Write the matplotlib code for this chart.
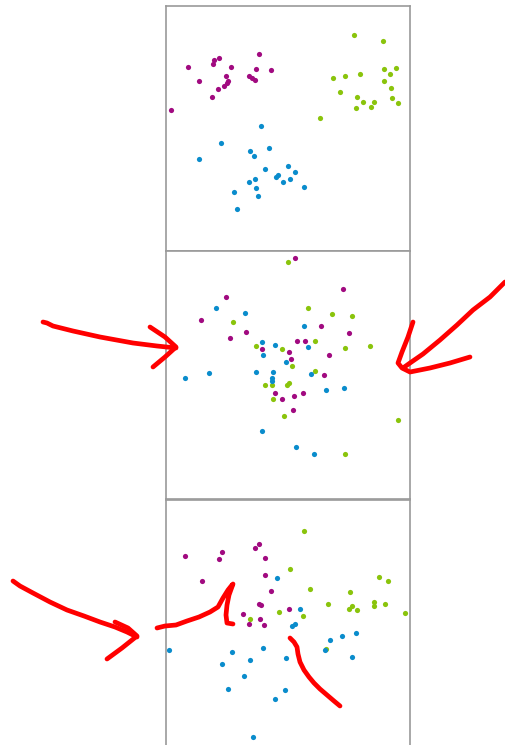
import matplotlib.pyplot as plt
import matplotlib as mpl

mpl.use("Agg")

# point positions, in each panel's own units
# (x grows right, y grows downwards)
p1_magenta_x = [296, 84, 162, 178, 160, 213, 198, 288, 332, 116, 203, 200, 192,
                174, 155, 268, 276, 285, 34]
p1_magenta_y = [162, 202, 180, 173, 193, 202, 227, 208, 211, 243, 242, 250, 258,
                266, 290, 227, 233, 240, 330]
p1_green_x = [582, 670, 520, 556, 600, 672, 708, 689, 672, 692, 540, 592, 608,
              642, 588, 632, 695, 715, 481]
p1_green_y = [104, 123, 233, 227, 222, 206, 204, 223, 242, 264, 277, 290, 307,
              307, 324, 322, 294, 309, 354]
p1_blue_x = [303, 183, 116, 327, 270, 281, 316, 385, 404, 348, 354, 369, 390,
             268, 286, 288, 293, 432, 221, 230]
p1_blue_y = [378, 427, 477, 443, 453, 467, 507, 497, 516, 530, 523, 545, 536,
             546, 537, 564, 586, 560, 576, 626]

p2_magenta_x = [406, 548, 198, 123, 482, 258, 209, 566, 410, 434, 305, 388, 394,
                508, 492, 344, 429, 401, 367, 399]
p2_magenta_y = [31, 124, 149, 216, 234, 252, 271, 255, 279, 281, 304, 313, 334,
                323, 381, 437, 436, 444, 455, 486]
p2_green_x = [383, 444, 515, 577, 219, 464, 289, 366, 554, 631, 397, 464, 315,
              337, 381, 388, 339, 373, 715, 556]
p2_green_y = [43, 181, 199, 204, 224, 279, 294, 303, 300, 294, 355, 370, 413,
              413, 411, 407, 453, 506, 517, 620]
p2_blue_x = [167, 256, 432, 307, 346, 444, 309, 377, 287, 339, 337, 335, 146,
             74, 453, 498, 552, 306, 408, 462]
p2_blue_y = [181, 197, 234, 283, 292, 297, 322, 344, 372, 373, 392, 399, 377,
             392, 378, 427, 421, 550, 599, 620]

p3_magenta_x = [298, 284, 187, 76, 176, 314, 316, 127, 332, 298, 304, 386, 249,
                301, 267, 311]
p3_magenta_y = [148, 159, 172, 184, 193, 190, 240, 257, 287, 326, 330, 342, 358,
                373, 386, 390]
p3_green_x = [432, 391, 657, 684, 450, 571, 503, 577, 568, 592, 642, 642, 674,
              357, 430, 736, 270, 497]
p3_green_y = [108, 222, 245, 259, 283, 290, 327, 332, 343, 346, 322, 332, 327,
              352, 363, 354, 371, 461]
p3_blue_x = [350, 419, 406, 397, 588, 545, 511, 26, 215, 309, 495, 269, 378,
             577, 185, 251, 204, 376, 344, 279]
p3_blue_y = [249, 342, 388, 394, 415, 423, 434, 464, 470, 458, 466, 494, 489,
             485, 507, 541, 580, 584, 612, 725]

# hand-drawn red annotation strokes, figure pixels
arrow1_x = [43, 47, 53, 73, 100, 133, 157, 176]
arrow1_y = [322, 323, 326, 331, 337, 343, 346, 348]
head1_x = [150, 165, 176, 165, 153]
head1_y = [327, 337, 347, 357, 367]
arrow2_x = [505, 490, 473, 457, 440, 423, 410, 403]
arrow2_y = [282, 297, 310, 325, 340, 354, 363, 368]
head2_x = [413, 408, 402, 398, 402, 410, 430, 450, 470]
head2_y = [322, 337, 352, 363, 368, 372, 368, 363, 357]
arrow3_x = [13, 20, 33, 50, 67, 84, 100, 115, 127, 137]
arrow3_y = [581, 586, 593, 602, 610, 616, 622, 627, 632, 637]
head3_x = [115, 128, 137, 122, 107]
head3_y = [622, 628, 636, 648, 659]
squiggle_x = [157, 165, 176, 187, 199, 210, 218, 223, 228, 232, 233, 229, 227,
              226, 227, 233]
squiggle_y = [628, 626, 625, 621, 617, 612, 607, 598, 590, 585, 584, 595, 605,
              615, 623, 624]
arrow5_x = [290, 294, 297, 298, 300, 304, 309, 314, 320, 327, 334, 340]
arrow5_y = [638, 642, 647, 654, 662, 670, 677, 683, 689, 695, 701, 706]

MAGENTA = "#a10a80"
GREEN = "#8ac40c"
BLUE = "#0a8ccc"

W, H = 505, 745


def panel(fig, top, bottom, ylims, groups):
    ax = fig.add_axes([166 / W, (H - bottom) / H, 244 / W, (bottom - top) / H])
    for xs, ys, c in groups:
        ax.scatter(xs, ys, s=14, color=c, linewidths=0)
    ax.set_xlim(18, 750)
    ax.set_ylim(*ylims)
    ax.set_xticks([])
    ax.set_yticks([])
    for sp in ax.spines.values():
        sp.set_color("#9a9a9a")
        sp.set_linewidth(1.2)
    return ax


fig = plt.figure(figsize=(W / 100, H / 100), dpi=100)

panel(fig, 6, 251, (752, 18), [
    (p1_magenta_x, p1_magenta_y, MAGENTA),
    (p1_green_x, p1_green_y, GREEN),
    (p1_blue_x, p1_blue_y, BLUE),
])
panel(fig, 251, 498.5, (752, 10), [
    (p2_magenta_x, p2_magenta_y, MAGENTA),
    (p2_green_x, p2_green_y, GREEN),
    (p2_blue_x, p2_blue_y, BLUE),
])
panel(fig, 499.5, 746, (752, 14), [
    (p3_magenta_x, p3_magenta_y, MAGENTA),
    (p3_green_x, p3_green_y, GREEN),
    (p3_blue_x, p3_blue_y, BLUE),
])

# overlay for the red marker strokes
over = fig.add_axes([0, 0, 1, 1], zorder=10)
over.set_xlim(0, W)
over.set_ylim(H, 0)
over.axis("off")
over.patch.set_alpha(0)
for xs, ys in [(arrow1_x, arrow1_y), (head1_x, head1_y),
               (arrow2_x, arrow2_y), (head2_x, head2_y),
               (arrow3_x, arrow3_y), (head3_x, head3_y),
               (squiggle_x, squiggle_y), (arrow5_x, arrow5_y)]:
    over.plot(xs, ys, color="#ff0000", lw=3.4, solid_capstyle="round",
              solid_joinstyle="round")

fig.savefig("out.png", dpi=100)
